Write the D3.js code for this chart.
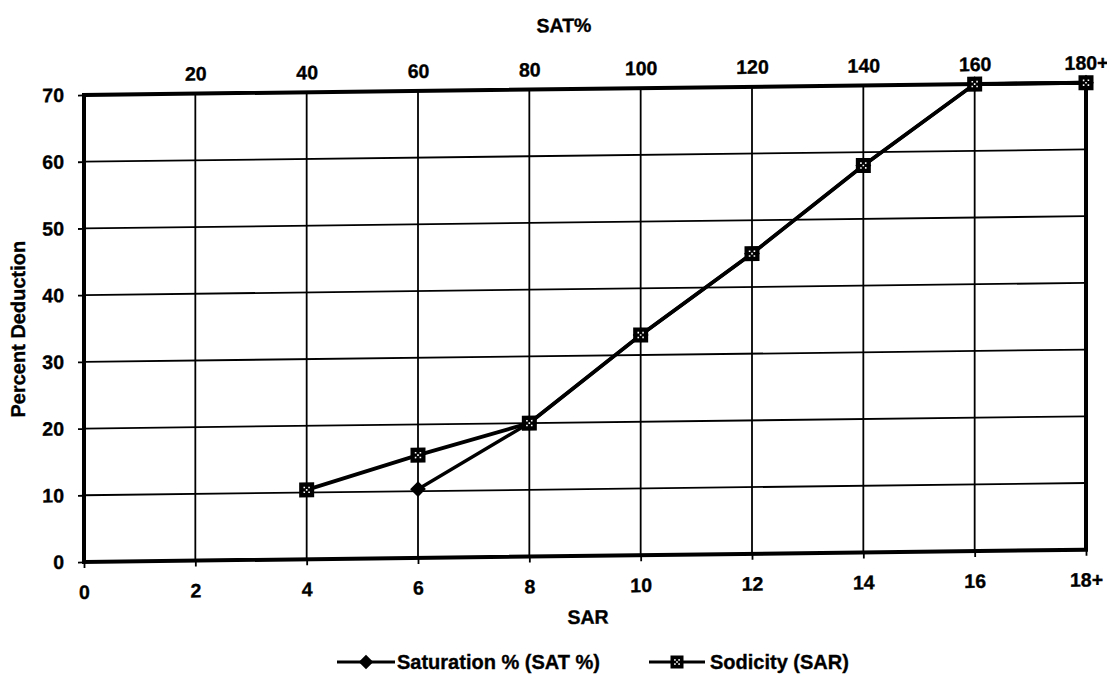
<!DOCTYPE html>
<html>
<head>
<meta charset="utf-8">
<script src="https://cdn.jsdelivr.net/npm/d3@7"></script>
<style>
  html, body { margin: 0; padding: 0; background: #fff; }
  svg { display: block; }
  text { font-family: "Liberation Sans", Arial, sans-serif; font-weight: bold; fill: #000; stroke: #000; stroke-width: 0.35px; }
</style>
</head>
<body>
<svg id="chart" width="1107" height="675"></svg>
<script>
// Bottom axis: sodium adsorption ratio
const sarTicks = [0, 2, 4, 6, 8, 10, 12, 14, 16, 18];
const sarLabels = ["0", "2", "4", "6", "8", "10", "12", "14", "16", "18+"];
// Top axis: saturation percentage
const satTicks = [20, 40, 60, 80, 100, 120, 140, 160, 180];
const satLabels = ["20", "40", "60", "80", "100", "120", "140", "160", "180+"];
// Left axis: percent deduction
const yTicks = [0, 10, 20, 30, 40, 50, 60, 70];

// Sodicity (SAR) series, plotted against the bottom axis
const sodicitySAR = [4, 6, 8, 10, 12, 14, 16, 18];
const sodicityDeduction = [10.4, 15.4, 20, 33, 45, 58, 70, 70];

// Saturation % (SAT %) series, plotted against the top axis
const saturationSAT = [60, 80, 100, 120, 140, 160, 180];
const saturationDeduction = [10.3, 20, 33, 45, 58, 70, 70];

const svg = d3.select("#chart");
const plot = { left: 84, right: 1086, top: 96, bottom: 563 };

const x = d3.scaleLinear().domain([0, 18]).range([plot.left, plot.right]);
const xTop = d3.scaleLinear().domain([0, 180]).range([plot.left, plot.right]);
const y = d3.scaleLinear().domain([0, 70]).range([plot.bottom, plot.top]);

// The whole chart sits with a slight slant
const g = svg.append("g").attr("transform", "skewY(-0.7)");

// Grid lines
g.append("g")
  .selectAll("line")
  .data(sarTicks.filter(d => d > 0 && d < 18))
  .join("line")
  .attr("x1", d => x(d)).attr("x2", d => x(d))
  .attr("y1", y(70)).attr("y2", y(0))
  .attr("stroke", "#000").attr("stroke-width", 1.8);

g.append("g")
  .selectAll("line")
  .data(yTicks.filter(d => d > 0 && d < 70))
  .join("line")
  .attr("x1", x(0)).attr("x2", x(18))
  .attr("y1", d => y(d)).attr("y2", d => y(d))
  .attr("stroke", "#000").attr("stroke-width", 1.8);

// Axes via d3 axis generators
const yAxis = g.append("g")
  .attr("transform", `translate(${x(0)},0)`)
  .call(d3.axisLeft(y).tickValues(yTicks).tickSize(6).tickPadding(14));
const xAxis = g.append("g")
  .attr("transform", `translate(0,${y(0)})`)
  .call(d3.axisBottom(x).tickValues(sarTicks).tickFormat((d, i) => sarLabels[i]).tickSize(6).tickPadding(17));
const xTopAxis = g.append("g")
  .attr("transform", `translate(0,${y(70)})`)
  .call(d3.axisTop(xTop).tickValues(satTicks).tickFormat((d, i) => satLabels[i]).tickSize(0).tickPadding(13));

[yAxis, xAxis, xTopAxis].forEach(a => {
  a.select(".domain").remove();
  a.selectAll(".tick line").attr("stroke", "#000").attr("stroke-width", 1.8);
  a.selectAll(".tick text").attr("font-size", 19.5).attr("fill", "#000")
    .style("font-family", '"Liberation Sans", Arial, sans-serif').style("font-weight", "bold");
});

// Plot frame
g.append("rect")
  .attr("x", x(0)).attr("y", y(70))
  .attr("width", x(18) - x(0)).attr("height", y(0) - y(70))
  .attr("fill", "none").attr("stroke", "#000").attr("stroke-width", 4);

// Axis titles
g.append("text").attr("x", 564).attr("y", 39).attr("text-anchor", "middle")
  .attr("font-size", 19.5).text("SAT%");
g.append("text").attr("x", 588).attr("y", 631).attr("text-anchor", "middle")
  .attr("font-size", 19.5).text("SAR");
g.append("text")
  .attr("transform", `translate(25,${(y(0) + y(70)) / 2}) rotate(-90)`)
  .attr("text-anchor", "middle").attr("font-size", 20).text("Percent Deduction");

// Series lines
const satLine = d3.line().x(d => xTop(d[0])).y(d => y(d[1]));
const sarLine = d3.line().x(d => x(d[0])).y(d => y(d[1]));
const satPts = saturationSAT.map((v, i) => [v, saturationDeduction[i]]);
const sarPts = sodicitySAR.map((v, i) => [v, sodicityDeduction[i]]);

g.append("path").datum(satPts).attr("d", satLine)
  .attr("fill", "none").attr("stroke", "#000").attr("stroke-width", 3.4);

g.append("g").selectAll("path").data(satPts).join("path")
  .attr("d", d3.symbol().type(d3.symbolSquare).size(125))
  .attr("transform", d => `translate(${xTop(d[0])},${y(d[1])}) rotate(45)`)
  .attr("fill", "#000");

g.append("path").datum(sarPts).attr("d", sarLine)
  .attr("fill", "none").attr("stroke", "#000").attr("stroke-width", 3.8);

function squareMarker(sel, s) {
  sel.append("rect").attr("x", -s / 2).attr("y", -s / 2).attr("width", s).attr("height", s).attr("fill", "#000");
  const o = s * 0.16;
  [[-o, -o], [o, -o], [-o, o], [o, o], [0, 0]].forEach(([dx, dy]) => {
    sel.append("rect").attr("x", dx - 0.8).attr("y", dy - 0.8).attr("width", 1.6).attr("height", 1.6).attr("fill", "#fff");
  });
}
g.append("g").selectAll("g").data(sarPts).join("g")
  .attr("transform", d => `translate(${x(d[0])},${y(d[1])})`)
  .each(function () { squareMarker(d3.select(this), 15); });

// Legend
const legend = svg.append("g");
const l1 = legend.append("g").attr("transform", "translate(337,662)");
l1.append("line").attr("x1", 0).attr("x2", 58).attr("stroke", "#000").attr("stroke-width", 3.2);
l1.append("path").attr("d", d3.symbol().type(d3.symbolSquare).size(105)).attr("transform", "translate(29,0) rotate(45)").attr("fill", "#000");
l1.append("text").attr("x", 60).attr("y", 7).attr("font-size", 20).text("Saturation % (SAT %)");

const l2 = legend.append("g").attr("transform", "translate(649,662)");
l2.append("line").attr("x1", 0).attr("x2", 56).attr("stroke", "#000").attr("stroke-width", 3.2);
const lm = l2.append("g").attr("transform", "translate(28,0)");
squareMarker(lm, 13);
l2.append("text").attr("x", 61).attr("y", 7).attr("font-size", 20).text("Sodicity (SAR)");
</script>
</body>
</html>
